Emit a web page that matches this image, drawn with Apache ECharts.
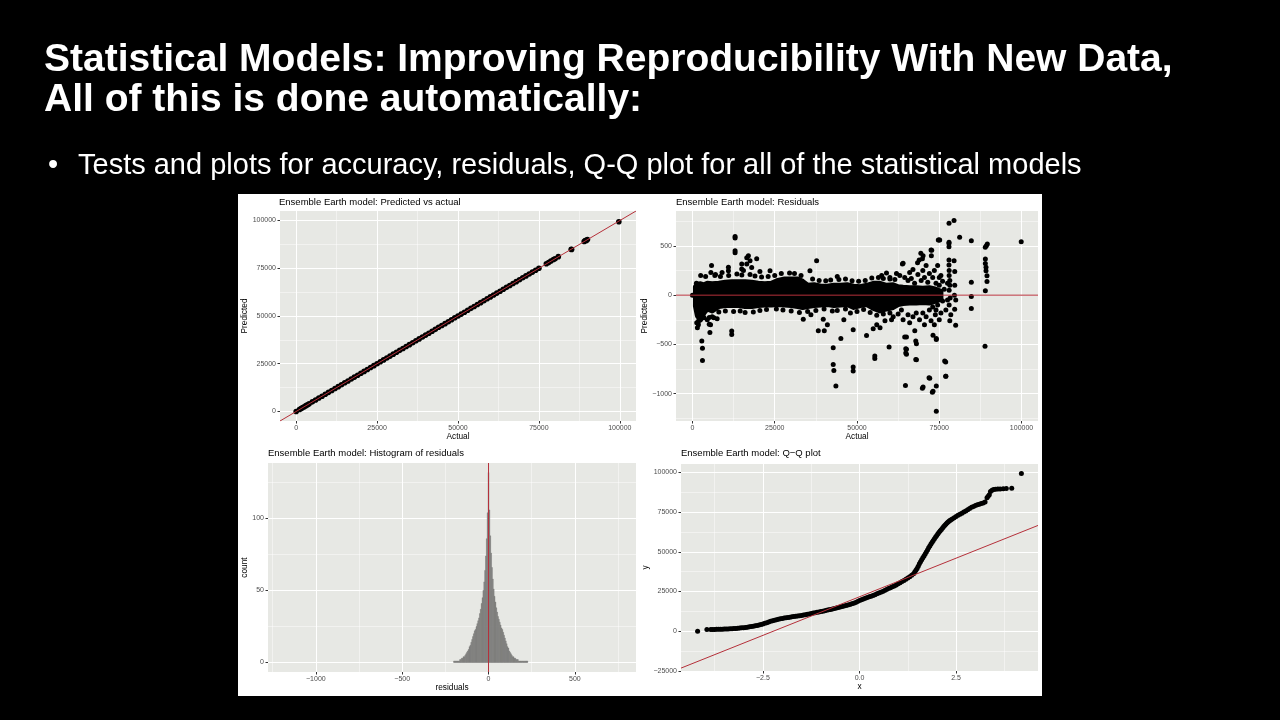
<!DOCTYPE html>
<html><head><meta charset="utf-8">
<script src="https://cdn.jsdelivr.net/npm/echarts@6/dist/echarts.min.js"></script>
<style>
html,body{margin:0;padding:0;background:#000;width:1280px;height:720px;overflow:hidden;}
#sheet{position:absolute;left:238px;top:194px;width:804px;height:502px;background:#fff;}
#c{position:absolute;left:0;top:0;width:1280px;height:720px;}
</style>
</head><body><div id="sheet"></div><div id="c"></div>
<script>
// ---------- texts ----------
const slideTitle = ['Statistical Models: Improving Reproducibility With New Data,', 'All of this is done automatically:'];
const bulletText = 'Tests and plots for accuracy, residuals, Q-Q plot for all of the statistical models';
const panelTitles = ['Ensemble Earth model: Predicted vs actual', 'Ensemble Earth model: Residuals',
  'Ensemble Earth model: Histogram of residuals', 'Ensemble Earth model: Q\u2212Q plot'];
const xNames = ['Actual', 'Actual', 'residuals', 'x'];
const yNames = ['Predicted', 'Predicted', 'count', 'y'];

// ---------- tick labels ----------
const ticks1 = [0, 25000, 50000, 75000, 100000];
const minor1 = [12500, 37500, 62500, 87500];
const residTicks = [-1000, -500, 0, 500];
const residMinor = [-1250, -750, -250, 250, 750];
const countTicks = [0, 50, 100];
const countMinor = [25, 75, 125];
const qqXTicks = [-2.5, 0, 2.5];
const qqXMinor = [-3.75, -1.25, 1.25, 3.75];
const qqYTicks = [-25000, 0, 25000, 50000, 75000, 100000];
const qqYMinor = [-12500, 12500, 37500, 62500, 87500];

// ---------- panel 1: predicted vs actual ----------
const pvaActual = [0,1000,1500,2000,2500,3000,3500,4000,5000,6000,7000,8000,9000,10000,11000,12000,13000,14000,15000,16000,17000,18000,19000,20000,21000,22000,23000,24000,25000,26000,27000,28000,29000,30000,31000,32000,33000,34000,35000,36000,37000,38000,39000,40000,41000,42000,43000,44000,45000,46000,47000,48000,49000,50000,51000,52000,53000,54000,55000,56000,57000,58000,59000,60000,61000,62000,63000,64000,65000,66000,67000,68000,69000,70000,71000,72000,73000,74000,75000,77300,78000,78700,79500,80000,81000,85000,85100,89000,89300,89700,90000,99700];
const pvaPredicted = [0,1050,1480,2050,2480,3040,3500,3980,5030,5980,7020,8000,8980,10020,11000,12030,12980,14000,15020,15990,17010,18000,19000,20010,20990,22000,23010,24000,24990,26000,27010,28000,29000,30010,30990,32000,33000,34010,35000,35990,37000,38010,39000,40000,40990,42000,43000,44100,45000,45990,47000,48000,49050,50000,51000,52000,53010,54000,54990,56000,57000,58000,59010,60000,60990,62000,63000,64010,65000,66000,67000,68000,69000,70050,71000,72000,73000,74000,75000,77400,78000,78800,79600,80000,81100,85000,84800,89000,89500,89600,90100,99400];

// ---------- panel 2: residuals ----------
// dense core of the cloud (envelope of the overlapping point centres)
const bandX    = [900,1500,2500,3500,4500,6000,8000,10000,12000,14000,16000,18000,20000,22000,24000,26000,28000,30000,32000,33500,35000,37000,39000,41000,43000,45000,47000,49000,51000,53000,55000,57000,59000,61000,62500,64000,66000,68000,70000,72000,74000,75500];
const bandHigh = [85,110,115,105,120,115,120,130,135,135,135,130,120,115,120,150,165,165,165,140,100,105,90,90,100,100,105,90,85,100,120,120,100,105,85,80,75,75,70,75,60,40];
const bandLow  = [-110,-210,-250,-180,-140,-160,-115,-105,-105,-105,-115,-115,-105,-100,-100,-95,-100,-105,-115,-125,-115,-105,-100,-95,-105,-100,-95,-125,-105,-95,-135,-160,-140,-125,-95,-85,-80,-80,-75,-80,-60,-40];
// individual points outside the core
const residActual = [0,1200,1500,1800,2000,2300,1300,2840,3040,3040,5100,5100,5300,4500,5500,5800,5600,6800,6500,10930,10930,11930,11930,12950,12950,12950,12950,14970,14970,16500,17000,17500,16500,19520,18000,15500,20500,23570,9000,7500,33670,35700,37730,38240,40060,39750,41000,36000,42770,42770,42970,43590,45100,44000,46000,48840,48840,48840,52900,55410,55410,54920,56000,57000,58500,59750,58960,57500,60500,62000,63800,64000,64500,65030,64720,65030,65030,64820,64820,66000,67000,67560,67860,67860,68060,68060,68400,68900,69400,69880,70080,69870,70080,70500,71000,71890,72100,72500,72600,72700,72900,73100,73100,73500,73800,74100,74100,74100,74100,74700,74920,75130,74500,75000,75500,75000,76640,76950,77000,76950,77960,79480,77960,77950,77950,77950,77950,78000,78000,78200,78200,78000,78300,78000,78500,78200,79680,79980,79500,79700,79700,79600,80000,81190,84740,84740,84740,84740,88980,89300,89600,89000,89000,89200,89200,89500,89500,89000,88900,99900,
  60000,61000,61500,62500,63000,63500,64000,64500,65500,65500,66000,66500,67000,67500,68000,68500,69000,69500,70000,70000,70500,71000,71500,72000,72000,72500,73000,73000,73500,74000,74000,74500,75000,75500,76000,76000,76500,77000,77500,77500,
  2500,4000,7000,8500,11000,13500,15000,17500,19000,21000,23000,25000,27000,29500,31000,33000,36500,38500,40500,42000,44500,46500,48500,50500,52500,54500,56500,58000,60000,
  1800,3500,6000,8000,10000,12500,14500,16000,18500,20500,22500,25500,27500,30000,32500,35000,37500,40000,42500,44000,46500,48000,50000,52000,54000,56000,58000,60000];
const residValue  = [0,120,-330,-300,-250,-220,-280,-465,-540,-662,-227,-295,-380,-250,-300,300,230,200,-230,282,248,-364,-398,594,580,450,430,316,265,380,400,350,316,370,280,250,240,248,230,-240,-244,248,350,-360,-360,-244,-300,-200,-533,-703,-764,-923,-440,190,-250,-730,-770,-350,-410,-618,-642,-340,-300,-330,-260,-526,224,200,-250,220,316,323,-425,-425,-916,-550,-600,-543,-587,230,260,-360,-465,-652,-492,-655,329,356,424,370,400,-944,-933,-300,300,-838,-842,458,400,455,-984,-974,-407,250,-200,-923,-450,-441,-1178,560,560,560,300,-250,200,180,-669,-679,-822,-822,730,757,537,525,492,356,305,250,200,150,100,50,-30,-100,-200,-260,-143,-306,350,240,100,0,-50,587,553,130,-13,-136,485,502,519,366,322,282,248,197,139,44,-519,543,
  180,-220,160,-190,200,-150,-250,180,-200,150,-280,170,-220,120,-180,210,-250,150,-180,250,180,-220,130,-150,220,-260,180,-120,-300,120,-150,-100,100,-180,140,-60,60,-150,120,-50,
  200,190,210,190,200,215,205,210,195,185,190,200,220,225,220,200,165,150,145,155,160,165,145,140,150,175,180,170,165,
  -270,-230,-220,-170,-160,-165,-160,-175,-170,-155,-145,-140,-150,-160,-175,-165,-155,-140,-160,-155,-140,-180,-165,-145,-175,-205,-190,-180];

// ---------- panel 3: histogram of residuals (bin width 5) ----------
const binWidth = 5;
const histCenters = [-200,-195,-190,-185,-180,-175,-170,-165,-160,-155,-150,-145,-140,-135,-130,-125,-120,-115,-110,-105,-100,-95,-90,-85,-80,-75,-70,-65,-60,-55,-50,-45,-40,-35,-30,-25,-20,-15,-10,-5,0,5,10,15,20,25,30,35,40,45,50,55,60,65,70,75,80,85,90,95,100,105,110,115,120,125,130,135,140,145,150,155,160,165,170,175,180,185,190,195,200,205,210,215,220,225];
const histCounts  = [1,1,1,1,1,1,1,2,2,3,3,4,4,5,6,7,8,9,11,12,14,16,18,20,22,23,25,27,29,31,34,37,41,45,50,56,64,74,86,104,132,106,88,76,66,58,51,46,42,38,35,32,30,28,26,24,23,21,19,17,15,13,11,10,8,7,6,5,4,4,3,3,2,2,2,1,1,1,1,1,1,1,1,1,1,1];

// ---------- panel 4: Q-Q plot ----------
const qqTheoretical = [-4.19,-3.95,-3.85,-3.8,-3.75,-3.7,-3.65,-3.6,-3.55,-3.5,-3.45,-3.4,-3.35,-3.3,-3.25,-3.2,-3.15,-3.1,-3.05,-3,-2.95,-2.9,-2.85,-2.8,-2.75,-2.7,-2.65,-2.6,-2.55,-2.5,-2.45,-2.4,-2.35,-2.3,-2.25,-2.2,-2.15,-2.1,-2.05,-2,-1.95,-1.9,-1.85,-1.8,-1.75,-1.7,-1.65,-1.6,-1.55,-1.5,-1.45,-1.4,-1.35,-1.3,-1.25,-1.2,-1.15,-1.1,-1.05,-1,-0.95,-0.9,-0.85,-0.8,-0.75,-0.7,-0.65,-0.6,-0.55,-0.5,-0.45,-0.4,-0.35,-0.3,-0.25,-0.2,-0.15,-0.1,-0.05,0,0.05,0.1,0.15,0.2,0.25,0.3,0.35,0.4,0.45,0.5,0.55,0.6,0.65,0.7,0.75,0.8,0.85,0.9,0.95,1,1.05,1.1,1.15,1.2,1.25,1.3,1.35,1.4,1.43,1.46,1.49,1.52,1.55,1.58,1.61,1.64,1.67,1.7,1.73,1.76,1.79,1.82,1.85,1.88,1.91,1.94,1.97,2,2.03,2.06,2.09,2.12,2.15,2.18,2.21,2.24,2.27,2.3,2.33,2.36,2.4,2.45,2.5,2.55,2.6,2.65,2.7,2.75,2.8,2.85,2.9,2.95,3,3.05,3.1,3.15,3.2,3.25,3.3,3.33,3.36,3.39,3.43,3.47,3.52,3.58,3.64,3.72,3.8,3.94,4.19];
const qqSample = [0,1000,1000,1050,1100,1120,1150,1200,1250,1300,1350,1400,1450,1520,1600,1700,1800,1920,2050,2200,2350,2520,2700,2900,3100,3320,3550,3800,4100,4450,4900,5350,5800,6200,6600,6900,7200,7500,7800,8000,8200,8400,8600,8800,9000,9180,9350,9520,9700,9900,10120,10350,10600,10850,11100,11350,11600,11850,12100,12350,12600,12850,13100,13400,13700,14000,14300,14600,14900,15200,15500,15800,16100,16450,16800,17200,17600,18100,18700,19300,19800,20250,20700,21150,21600,22050,22500,23000,23500,24000,24500,25050,25600,26200,26800,27350,27900,28500,29100,29800,30500,31200,31900,32700,33500,34300,35200,36200,37200,38300,39500,40900,42400,43800,45000,46200,47400,48600,49900,51200,52500,53700,54900,56000,57100,58200,59300,60300,61300,62300,63200,64100,65000,65900,66700,67500,68300,69000,69600,70100,70700,71500,72300,73000,73700,74300,75000,75700,76500,77300,78000,78600,79100,79600,80000,80400,80800,81400,84000,85000,86000,88000,88800,89200,89400,89500,89600,89800,89900,90000,99400];
const qqLineIntercept = 21650;
const qqLineSlope = 9730;

// ---------- layout ----------
const FONT = 'Liberation Sans';
const RED = '#b5303a';
const PANEL_BG = '#e7e8e4';
const grids = [
  {left: 280, top: 211, width: 356, height: 210},
  {left: 676, top: 211, width: 362, height: 210},
  {left: 268, top: 463, width: 368, height: 209},
  {left: 681, top: 464, width: 357, height: 207}
];
const xRange = [[-5000, 105000], [-5000, 105000], [-1277, 854], [-4.62, 4.62]];
const yRange = [[-5000, 105000], [-1277, 854], [-6.6, 138.6], [-25130, 105330]];
const xMajor = [ticks1, ticks1, residTicks, qqXTicks];
const xMinorV = [minor1, minor1, residMinor, qqXMinor];
const yMajor = [ticks1, residTicks, countTicks, qqYTicks];
const yMinorV = [minor1, residMinor, countMinor, qqYMinor];
const yNameGap = [28, 21, 16, 26];

const fmtNum = v => String(v).replace('-', '\u2212');
const fmtDec = v => v.toFixed(1).replace('-', '\u2212');
const xFmt = [fmtNum, fmtNum, fmtNum, fmtDec];

function majorAxis(dim, g) {
  const isX = dim === 'x';
  const r = isX ? xRange[g] : yRange[g];
  const vals = isX ? xMajor[g] : yMajor[g];
  return {
    type: 'value', gridIndex: g, min: r[0], max: r[1],
    position: isX ? 'bottom' : 'left',
    name: isX ? xNames[g] : yNames[g], nameLocation: 'middle',
    nameGap: isX ? 10.5 : yNameGap[g],
    nameTextStyle: {fontFamily: FONT, fontSize: 8.3, color: '#000'},
    axisLine: {show: false, onZero: false},
    axisTick: {show: true, length: 2.5, customValues: vals, lineStyle: {color: '#333', width: 1}},
    axisLabel: {show: true, customValues: vals, margin: isX ? 3.5 : 4, fontFamily: FONT, fontSize: 7, color: '#4d4d4d',
      formatter: isX ? xFmt[g] : fmtNum},
    splitLine: {show: true, lineStyle: {color: '#ffffff', width: 1}},
    z: 1
  };
}
function minorAxis(dim, g) {
  const isX = dim === 'x';
  const r = isX ? xRange[g] : yRange[g];
  const vals = isX ? xMinorV[g] : yMinorV[g];
  return {
    type: 'value', gridIndex: g, min: r[0], max: r[1],
    position: isX ? 'top' : 'right',
    axisLine: {show: false, onZero: false},
    axisTick: {show: false, customValues: vals},
    axisLabel: {show: false, customValues: vals},
    splitLine: {show: true, lineStyle: {color: 'rgba(255,255,255,0.75)', width: 0.6}},
    z: 0
  };
}
const xAxes = [], yAxes = [];
for (let g = 0; g < 4; g++) {
  xAxes.push(majorAxis('x', g), minorAxis('x', g));
  yAxes.push(majorAxis('y', g), minorAxis('y', g));
}

const titles = panelTitles.map((t, i) => ({
  text: t, left: [279, 676, 268, 681][i], top: [197, 197, 448, 448][i], padding: 0,
  textStyle: {fontFamily: FONT, fontSize: 9.5, fontWeight: 'normal', color: '#000'}
}));

const dot = {color: '#000', opacity: 1};
const series = [
  // panel 1
  {type: 'scatter', xAxisIndex: 0, yAxisIndex: 0, symbolSize: 5.6, itemStyle: dot, z: 3, silent: true,
   data: pvaActual.map((a, i) => [a, pvaPredicted[i]])},
  {type: 'line', xAxisIndex: 0, yAxisIndex: 0, symbol: 'none', z: 4, silent: true,
   lineStyle: {color: RED, width: 1},
   data: [[xRange[0][0], xRange[0][0]], [xRange[0][1], xRange[0][1]]]},
  // panel 2
  {type: 'custom', xAxisIndex: 2, yAxisIndex: 2, z: 3, silent: true,
   data: bandX.map((x, i) => [x, bandLow[i], bandHigh[i]]),
   renderItem: (params, api) => {
     if (params.dataIndex !== 0) return null;
     const pts = [];
     for (let i = 0; i < bandX.length; i++) pts.push(api.coord([bandX[i], bandHigh[i]]));
     for (let i = bandX.length - 1; i >= 0; i--) pts.push(api.coord([bandX[i], bandLow[i]]));
     return {type: 'polygon', shape: {points: pts},
       style: {fill: '#000', stroke: '#000', lineWidth: 5, lineJoin: 'round'}};
   }},
  {type: 'scatter', xAxisIndex: 2, yAxisIndex: 2, symbolSize: 5, itemStyle: dot, z: 3, silent: true,
   data: residActual.map((a, i) => [a, residValue[i]])},
  {type: 'line', xAxisIndex: 2, yAxisIndex: 2, symbol: 'none', z: 4, silent: true,
   lineStyle: {color: RED, width: 1},
   data: [[xRange[1][0], 0], [xRange[1][1], 0]]},
  // panel 3
  {type: 'custom', xAxisIndex: 4, yAxisIndex: 4, z: 3, silent: true,
   data: histCenters.map((c, i) => [c, histCounts[i]]),
   renderItem: (params, api) => {
     const c = api.value(0), n = api.value(1);
     const p0 = api.coord([c - binWidth / 2, n]);
     const p1 = api.coord([c + binWidth / 2, 0]);
     return {type: 'rect', shape: {x: p0[0], y: p0[1], width: p1[0] - p0[0], height: p1[1] - p0[1]},
       style: {fill: '#7b7b7a', stroke: '#7b7b7a', lineWidth: 0.4}};
   }},
  {type: 'line', xAxisIndex: 4, yAxisIndex: 4, symbol: 'none', z: 4, silent: true,
   lineStyle: {color: RED, width: 1},
   data: [[0, yRange[2][0]], [0, yRange[2][1]]]},
  // panel 4
  {type: 'scatter', xAxisIndex: 6, yAxisIndex: 6, symbolSize: 5, itemStyle: dot, z: 3, silent: true,
   data: qqTheoretical.map((t, i) => [t, qqSample[i]])},
  {type: 'line', xAxisIndex: 6, yAxisIndex: 6, symbol: 'none', z: 4, silent: true,
   lineStyle: {color: RED, width: 1},
   data: [xRange[3][0], xRange[3][1]].map(t => [t, qqLineIntercept + qqLineSlope * t])}
];

const graphic = [
  {type: 'text', x: 44, y: 60, style: {text: slideTitle[0], fill: '#fff', font: 'bold 39px "Liberation Sans"', verticalAlign: 'middle'}},
  {type: 'text', x: 44, y: 100, style: {text: slideTitle[1], fill: '#fff', font: 'bold 39px "Liberation Sans"', verticalAlign: 'middle'}},
  {type: 'text', x: 48, y: 166, style: {text: '\u2022', fill: '#fff', font: '29px "Liberation Sans"', verticalAlign: 'middle'}},
  {type: 'text', x: 78, y: 166, style: {text: bulletText, fill: '#fff', font: '29px "Liberation Sans"', verticalAlign: 'middle'}}
];

const chart = echarts.init(document.getElementById('c'), null, {renderer: 'canvas'});
chart.setOption({
  backgroundColor: 'transparent',
  animation: false,
  textStyle: {fontFamily: FONT},
  title: titles,
  graphic: graphic,
  grid: grids.map(g => Object.assign({show: true, backgroundColor: PANEL_BG, borderWidth: 0}, g)),
  xAxis: xAxes,
  yAxis: yAxes,
  series: series
});
</script>
</body></html>
